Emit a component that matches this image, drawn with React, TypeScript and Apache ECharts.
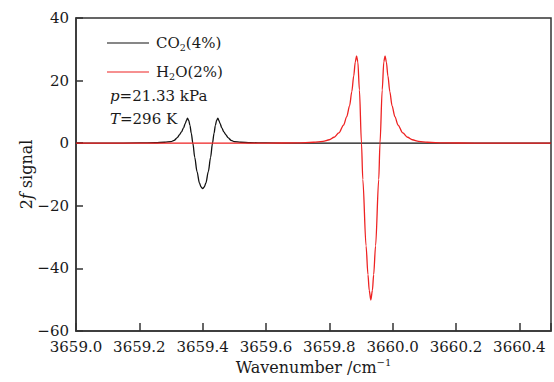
import React, { useEffect, useRef } from "react";
import * as echarts from "echarts";

const FONT = "DejaVu Serif";

const seriesNames = ["CO2(4%)", "H2O(2%)"];

// CO2 (4%) 2f signal: [wavenumber, signal]
const co2Points: [number, number][] = [
  [3659.0, 0], [3659.1, 0.02], [3659.2, 0.08], [3659.25, 0.15], [3659.28, 0.3],
  [3659.3, 0.5], [3659.31, 0.9], [3659.32, 1.8], [3659.327, 2.7], [3659.333, 3.6],
  [3659.34, 5.0], [3659.345, 6.3], [3659.349, 7.3], [3659.352, 8.0], [3659.356, 7.3],
  [3659.36, 5.6], [3659.364, 3.2], [3659.369, 0], [3659.375, -4.5], [3659.382, -9.0],
  [3659.39, -12.8], [3659.395, -14.0], [3659.4, -14.5], [3659.405, -14.0], [3659.41, -12.8],
  [3659.418, -9.0], [3659.425, -4.5], [3659.431, 0], [3659.436, 3.2], [3659.44, 5.6],
  [3659.444, 7.3], [3659.448, 8.0], [3659.451, 7.3], [3659.455, 6.3], [3659.46, 5.0],
  [3659.467, 3.6], [3659.473, 2.7], [3659.48, 1.8], [3659.49, 0.9], [3659.5, 0.5],
  [3659.52, 0.3], [3659.55, 0.15], [3659.6, 0.08], [3659.7, 0.02], [3659.8, 0],
  [3660.5, 0],
];

// H2O (2%) 2f signal: [wavenumber, signal]
const h2oPoints: [number, number][] = [
  [3659.0, 0], [3659.6, 0.03], [3659.7, 0.1], [3659.75, 0.3], [3659.78, 0.6],
  [3659.8, 1.1], [3659.815, 1.9], [3659.83, 3.3], [3659.845, 5.8], [3659.855, 8.5],
  [3659.864, 12.0], [3659.871, 16.5], [3659.877, 21.5], [3659.882, 26.0], [3659.886, 27.9],
  [3659.89, 26.0], [3659.895, 17.0], [3659.9015, 0], [3659.9057, -11.6], [3659.916, -32.8],
  [3659.922, -42.0], [3659.926, -47.0], [3659.931, -50.1], [3659.936, -47.0], [3659.94, -42.0],
  [3659.946, -32.8], [3659.956, -11.6], [3659.96, 0], [3659.967, 17.0], [3659.972, 26.0],
  [3659.976, 27.9], [3659.98, 26.0], [3659.985, 21.5], [3659.991, 16.5], [3659.998, 12.0],
  [3660.007, 8.5], [3660.017, 5.8], [3660.032, 3.3], [3660.047, 1.9], [3660.062, 1.1],
  [3660.082, 0.6], [3660.11, 0.3], [3660.16, 0.1], [3660.26, 0.03], [3660.5, 0],
];

const xMin = 3659.0;
const xMax = 3660.5;
const xInterval = 0.2;
const yMin = -60;
const yMax = 40;
const yInterval = 20;

const annotations = ["{i|p}=21.33 kPa", "{i|T}=296 K"];

export default function App() {
  const ref = useRef<HTMLDivElement>(null);

  useEffect(() => {
    if (!ref.current) return;
    const chart = echarts.init(ref.current, undefined, { renderer: "svg" });
    const axisColor = "#333333";
    const textColor = "#1a1a1a";
    chart.setOption({
      animation: false,
      backgroundColor: "#ffffff",
      textStyle: { fontFamily: FONT },
      grid: {
        left: 76,
        right: 1.5,
        top: 18,
        bottom: 50,
        show: true,
        borderColor: axisColor,
        borderWidth: 1.5,
        backgroundColor: "rgba(0,0,0,0)",
      },
      legend: {
        orient: "vertical",
        left: 107,
        top: 34,
        padding: 0,
        itemWidth: 42,
        itemHeight: 14,
        itemGap: 11,
        icon: "path://M0,6.5 L42,6.5 L42,7.5 L0,7.5 Z",
        data: seriesNames,
        formatter: (name: string) =>
          name === "CO2(4%)" ? "CO{s|2}(4%)" : "H{s|2}O(2%)",
        textStyle: {
          fontFamily: FONT,
          fontSize: 15,
          color: textColor,
          lineHeight: 18,
          padding: [0, 0, 0, 2],
          rich: {
            s: {
              fontFamily: FONT,
              fontSize: 9.5,
              lineHeight: 10,
              verticalAlign: "bottom",
              color: textColor,
            },
          },
        },
      },
      graphic: annotations.map((t, i) => ({
        type: "text",
        left: 110,
        top: 88 + i * 23,
        style: {
          text: t,
          font: `15px "${FONT}"`,
          fill: textColor,
          rich: {
            i: { fontStyle: "italic", fontFamily: FONT, fontSize: 15, fill: textColor },
          },
        },
      })),
      xAxis: {
        type: "value",
        min: xMin,
        max: xMax,
        interval: xInterval,
        name: "Wavenumber /cm{sup|−1}",
        nameLocation: "middle",
        nameGap: 26,
        nameMoveOverlap: false,
        nameTextStyle: {
          fontFamily: FONT,
          fontSize: 16,
          color: textColor,
          lineHeight: 20,
          rich: {
            sup: {
              fontFamily: FONT,
              fontSize: 10,
              lineHeight: 10,
              verticalAlign: "top",
              color: textColor,
            },
          },
        },
        axisLine: { show: true, onZero: false, lineStyle: { color: axisColor, width: 1.5 } },
        axisTick: { show: true, inside: true, length: 8, lineStyle: { color: axisColor, width: 1.5 } },
        axisLabel: {
          fontFamily: FONT,
          fontSize: 15,
          lineHeight: 15,
          color: textColor,
          margin: 8,
          formatter: (v: number) => (Math.abs(v - xMax) < 1e-6 ? "" : v.toFixed(1)),
        },
        splitLine: { show: false },
      },
      yAxis: {
        type: "value",
        min: yMin,
        max: yMax,
        interval: yInterval,
        name: "2{i|f} signal",
        nameLocation: "middle",
        nameGap: 42,
        nameMoveOverlap: false,
        nameTextStyle: {
          fontFamily: FONT,
          fontSize: 16,
          color: textColor,
          rich: {
            i: { fontStyle: "italic", fontFamily: FONT, fontSize: 16, color: textColor },
          },
        },
        axisLine: { show: true, onZero: false, lineStyle: { color: axisColor, width: 1.5 } },
        axisTick: { show: true, inside: true, length: 7, lineStyle: { color: axisColor, width: 1.5 } },
        axisLabel: {
          fontFamily: FONT,
          fontSize: 15,
          lineHeight: 15,
          color: textColor,
          margin: 7,
          formatter: (v: number) => String(v).replace("-", "−"),
        },
        splitLine: { show: false },
      },
      series: [
        {
          name: seriesNames[0],
          type: "line",
          data: co2Points,
          showSymbol: false,
          symbol: "none",
          smooth: 0.3,
          smoothMonotone: "x",
          lineStyle: { color: "#111111", width: 1.3 },
          itemStyle: { color: "#111111" },
        },
        {
          name: seriesNames[1],
          type: "line",
          data: h2oPoints,
          showSymbol: false,
          symbol: "none",
          smooth: 0.3,
          smoothMonotone: "x",
          lineStyle: { color: "#ee2222", width: 1.3 },
          itemStyle: { color: "#ee2222" },
        },
      ],
    });
    return () => chart.dispose();
  }, []);

  return <div ref={ref} style={{ width: 554, height: 382, position: "absolute", left: 0, top: 0 }} />;
}
